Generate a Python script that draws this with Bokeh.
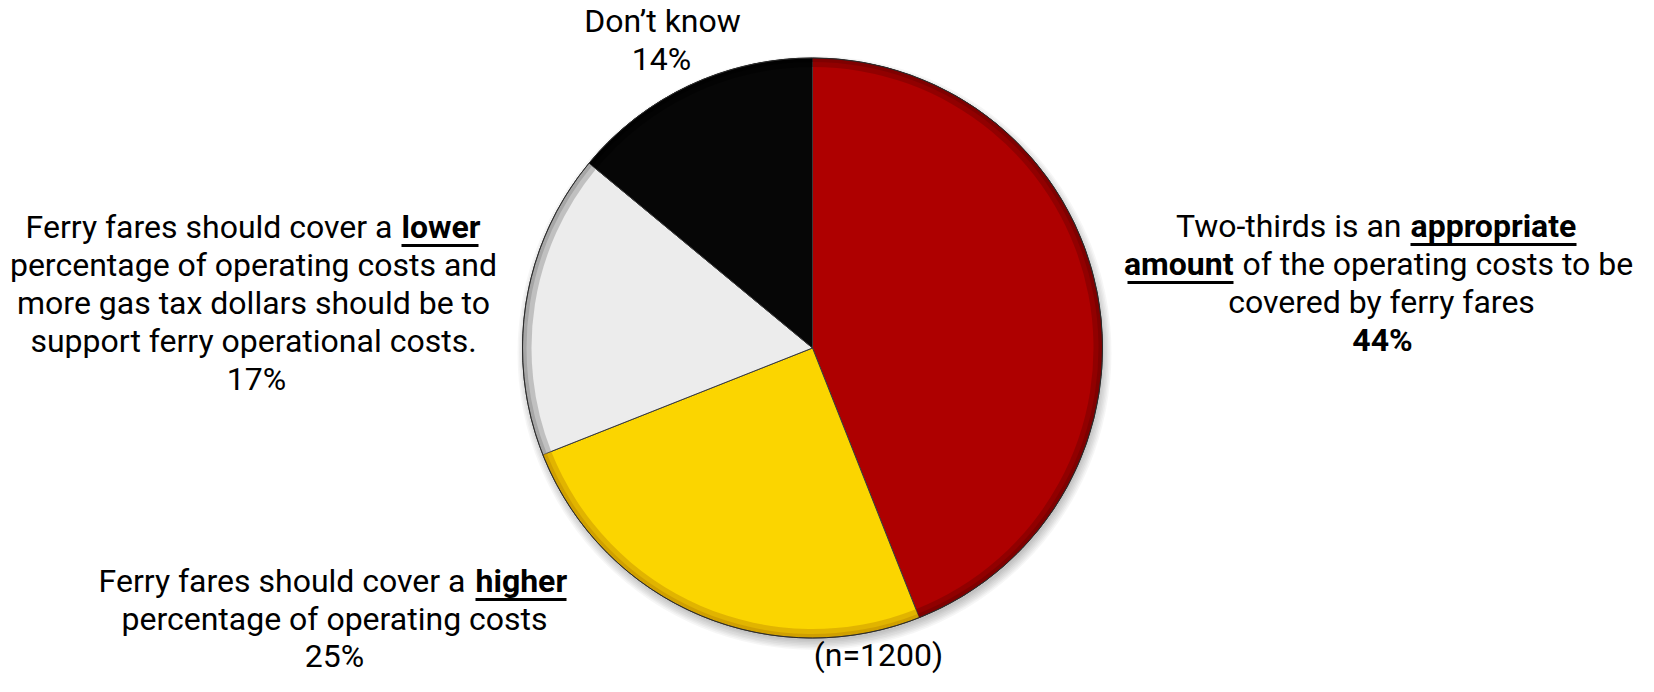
import numpy as np
from bokeh.plotting import figure
from bokeh.models import Range1d, ColumnDataSource
from bokeh.core.properties import value
from bokeh.embed import file_html
from bokeh.resources import INLINE

# ---------------- data ----------------
categories = [
    "Two-thirds is an appropriate amount of the operating costs to be covered by ferry fares",
    "Ferry fares should cover a higher percentage of operating costs",
    "Ferry fares should cover a lower percentage of operating costs and more gas tax dollars should be to support ferry operational costs.",
    "Don\u2019t know",
]
shares = [44, 25, 17, 14]
share_labels = ["44%", "25%", "17%", "14%"]
sample_note = "(n=1200)"

# ---------------- styles ----------------
slice_colors = ["#AE0000", "#FBD500", "#ECECEC", "#060606"]
rim_colors = ["#6E0000", "#C08C00", "#8C8C8C", "#000000"]
FONT = value("Roboto")
FS = "32px"
H = 692          # picture height used to flip image-style y coordinates
TEXT_SHIFT = 13  # renderer draws alphabetic text this much below its anchor


def Y(img_y):
    return H - img_y


p = figure(width=1638, height=676, output_backend="svg", toolbar_location=None,
           x_range=Range1d(0, 1638), y_range=Range1d(16, 692), min_border=0,
           x_axis_location=None, y_axis_location=None, title=None)
p.grid.visible = False
p.outline_line_color = None
p.background_fill_color = "white"
p.border_fill_color = "white"

# ---------------- pie ----------------
cx, cy, R = 812, Y(347.5), 290
total = float(sum(shares))
cum = np.cumsum(shares)
start = np.pi / 2 - 2 * np.pi * (cum - np.array(shares)) / total
end = np.pi / 2 - 2 * np.pi * cum / total
src = ColumnDataSource(dict(cat=categories, share=shares, start=start, end=end,
                            color=slice_colors, rim=rim_colors))

# soft drop shadow
for k in range(7):
    p.circle(x=cx + 2, y=cy - 5, radius=R - 2 + k * 1.5, fill_color="#000000",
             fill_alpha=0.035, line_color=None)

p.wedge(x=cx, y=cy, radius=R, start_angle="start", end_angle="end", direction="clock",
        fill_color="color", line_color="#3a3a3a", line_width=1, source=src)
# bevel rim
p.annular_wedge(x=cx, y=cy, inner_radius=R - 9, outer_radius=R, start_angle="start",
                end_angle="end", direction="clock", fill_color="rim", fill_alpha=0.45,
                line_color=None, source=src)
p.annular_wedge(x=cx, y=cy, inner_radius=R - 4, outer_radius=R, start_angle="start",
                end_angle="end", direction="clock", fill_color="rim", fill_alpha=0.5,
                line_color=None, source=src)
p.circle(x=cx, y=cy, radius=R, fill_color=None, line_color="#2a2a2a", line_width=1)

# ---------------- labels ----------------
def txt(x, y, t, align="center", bold=False):
    p.text(x=[x], y=[Y(y - TEXT_SHIFT)], text=[t], text_font=FONT, text_font_size=FS,
           text_align=align, text_baseline="alphabetic", text_color="#000000",
           text_font_style="bold" if bold else "normal")


def uline(x0, x1, y):
    p.segment(x0=[x0], y0=[Y(y + 6)], x1=[x1], y1=[Y(y + 6)], line_color="#000000",
              line_width=3)


# Don't know (top)
txt(662, 33, categories[3])
txt(661, 71, share_labels[3])

# lower (left)
txt(392, 239, "Ferry fares should cover a", "right")
txt(401, 239, "lower", "left", bold=True)
uline(401, 478, 239)
txt(253, 277, "percentage of operating costs and")
txt(253, 315, "more gas tax dollars should be to")
txt(253, 353, "support ferry operational costs.")
txt(256, 391, share_labels[2])

# appropriate (right)
txt(1401, 238, "Two-thirds is an", "right")
txt(1410, 238, "appropriate", "left", bold=True)
uline(1410, 1576, 238)
txt(1233, 276, "amount", "right", bold=True)
uline(1127, 1233, 276)
txt(1242, 276, "of the operating costs to be", "left")
txt(1381, 314, "covered by ferry fares")
txt(1382, 352, share_labels[0], bold=True)

# higher (bottom left)
txt(465, 593, "Ferry fares should cover a", "right")
txt(475, 593, "higher", "left", bold=True)
uline(475, 566, 593)
txt(334, 631, "percentage of operating costs")
txt(334, 668, share_labels[1])

# sample size
txt(878, 667, sample_note)

open("out.html", "w").write(file_html(p, INLINE))
